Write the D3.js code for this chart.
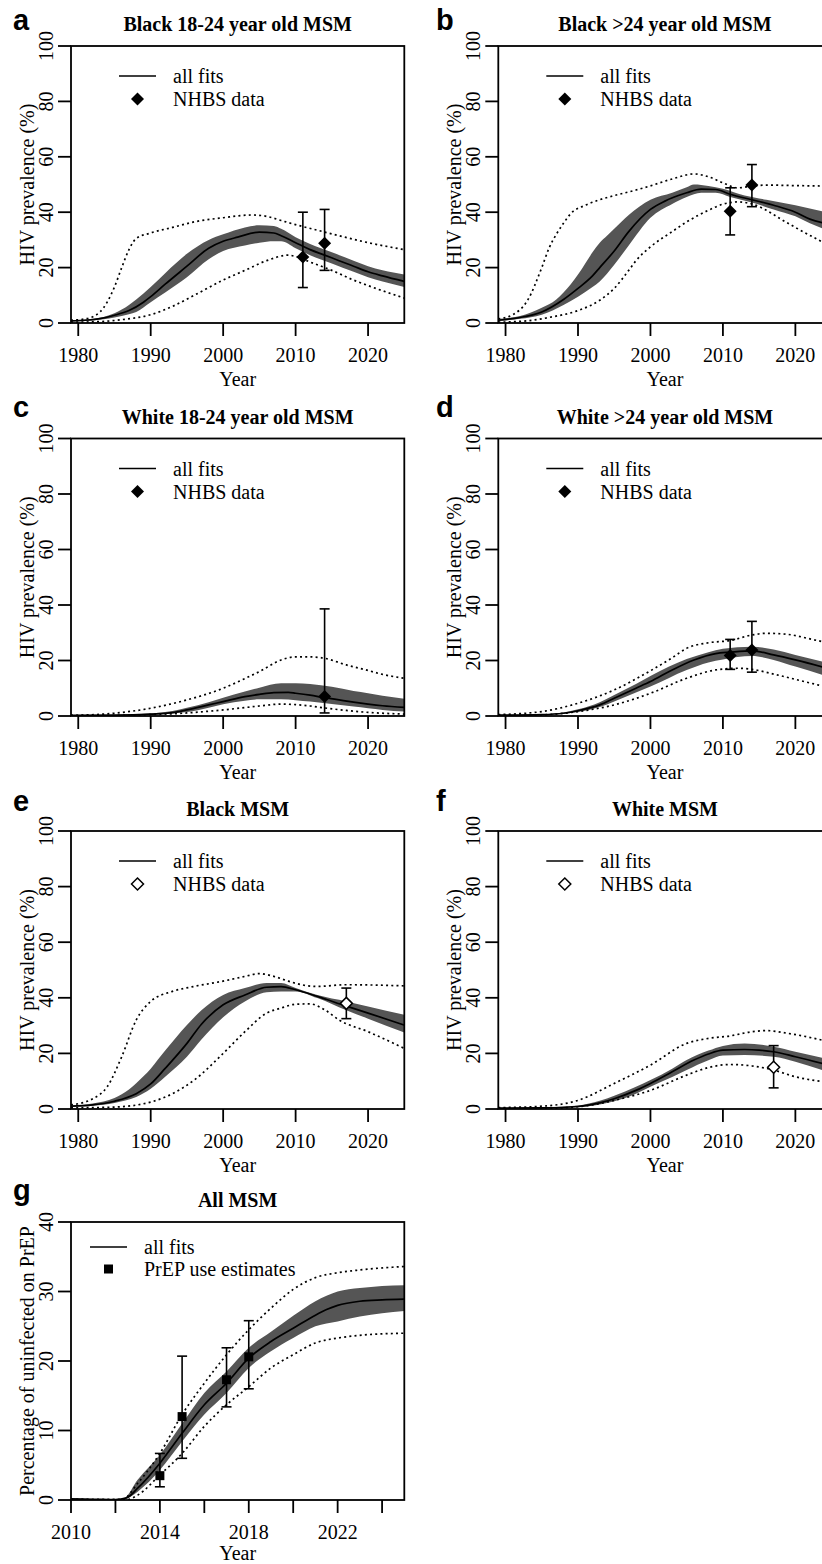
<!DOCTYPE html>
<html>
<head>
<meta charset="utf-8">
<script src="https://cdn.jsdelivr.net/npm/d3@7"></script>
<style>
  html, body { margin: 0; padding: 0; background: #ffffff; }
  svg { display: block; }
</style>
</head>
<body>
<svg id="chart" width="822" height="1564"></svg>
<script>
// ---------------- DATA ----------------
const panelLetters = ["a", "b", "c", "d", "e", "f", "g"];
const panelTitles = ["Black 18-24 year old MSM", "Black >24 year old MSM",
  "White 18-24 year old MSM", "White >24 year old MSM", "Black MSM", "White MSM", "All MSM"];
const prevYearTicks = [1980, 1990, 2000, 2010, 2020];
const prevValueTicks = [0, 20, 40, 60, 80, 100];
const prepYearTicks = [2010, 2012, 2014, 2016, 2018, 2020, 2022, 2024];
const prepYearLabels = [2010, 2014, 2018, 2022];
const prepValueTicks = [0, 10, 20, 30, 40];
const legendLine = "all fits";
const legendPrev = "NHBS data";
const legendPrep = "PrEP use estimates";
const yTitlePrev = "HIV prevalence (%)";
const yTitlePrep = "Percentage of uninfected on PrEP";
const xTitle = "Year";

// Panel a: Black 18-24
const aMedian = [[1979,0.8],[1981,1.0],[1983,1.6],[1985,2.8],[1987,4.5],[1989,7.5],[1990,9.5],[1992,14],[1995,20.5],[1998,27],[2000,29.5],[2002,31],[2005,32.8],[2007,32.5],[2008,31.5],[2010,29],[2012,26.5],[2014,24.5],[2016,22.5],[2018,20.5],[2020,18.5],[2022,17],[2025,15]];
const aBandHi = [[1979,1],[1982,1.5],[1985,3.5],[1987,6.5],[1988,8.5],[1990,13],[1992,18],[1995,25],[1998,30],[2000,32],[2003,34.5],[2005,35.3],[2007,35],[2008,34],[2010,31],[2012,28.5],[2015,25.5],[2018,22.5],[2020,20.5],[2022,19],[2025,17.5]];
const aBandLo = [[1979,0.5],[1982,1],[1985,2],[1987,3.2],[1988,4],[1990,7.5],[1992,11],[1995,16.5],[1998,23],[2000,26],[2003,28],[2005,29],[2007,29.5],[2008,29.5],[2010,27],[2012,24.5],[2015,21.5],[2018,18.5],[2020,16.5],[2022,15],[2025,13]];
const aDotHi = [[1979,1],[1981,1.5],[1983,4],[1985,13],[1986,20],[1987,26.5],[1988,30.5],[1990,32.5],[1993,34.5],[1996,36.5],[2000,38],[2004,39],[2006,38.5],[2008,37],[2010,35.5],[2013,33.5],[2016,31.5],[2020,29],[2025,26.5]];
const aDotLo = [[1979,0.3],[1983,0.5],[1986,1.2],[1990,3],[1993,6],[1996,10],[2000,15.5],[2003,19],[2006,22.5],[2009,24.5],[2010,24],[2012,22],[2015,19],[2018,15.5],[2020,13.5],[2025,9]];
const aPoints = [[2011,23.8,12.8,40],[2014,28.8,19,41]];

// Panel b: Black >24
const bMedian = [[1979,1],[1982,2],[1985,4],[1988,8.5],[1990,12.5],[1992,17],[1993,20],[1995,26],[1997,33],[2000,41],[2002,44],[2005,47],[2007,48.3],[2009,48.2],[2011,46.5],[2014,44.5],[2017,42.5],[2020,40],[2022,37.5],[2025,35.5]];
const bBandHi = [[1979,1.5],[1982,2.5],[1985,5.5],[1987,8.5],[1988,11],[1989,14],[1990,17.5],[1991,21.5],[1992,25.5],[1993,29],[1994,31.5],[1995,34],[1997,39],[2000,44.5],[2003,47],[2005,49],[2006,50],[2008,49.5],[2010,48.5],[2013,46],[2016,44.5],[2020,42.5],[2025,39.5]];
const bBandLo = [[1979,0.8],[1982,1.5],[1985,3],[1988,6.5],[1990,9.5],[1992,13],[1993,15],[1995,21],[1997,28],[2000,38],[2003,43],[2005,45.5],[2007,47],[2009,47],[2011,45.5],[2014,43.5],[2017,41],[2020,38.5],[2022,36],[2025,33]];
const bDotHi = [[1979,1.5],[1981,3],[1983,8],[1985,20],[1986,27],[1987,32],[1988,36],[1989,39.5],[1991,42.5],[1993,44.5],[1995,46],[1998,48],[2000,49.5],[2003,52],[2006,53.8],[2008,52.8],[2010,50.6],[2012,48.8],[2014,49.4],[2016,49.8],[2020,49.6],[2025,49.4]];
const bDotLo = [[1979,0.3],[1983,0.8],[1986,2],[1990,4.5],[1993,8.2],[1995,12.5],[1997,19],[1998,22.5],[2000,27.5],[2003,33],[2005,36.5],[2008,40.7],[2010,42.9],[2012,43.7],[2014,43],[2016,40.7],[2018,37.5],[2020,34.5],[2025,27.5]];
const bPoints = [[2011,40.3,31.8,48.8],[2014,49.8,42,57.2]];

// Panel c: White 18-24
const cMedian = [[1979,0.2],[1985,0.3],[1990,0.7],[1993,1.2],[1995,2.2],[1998,4],[2000,5.2],[2003,7],[2005,7.8],[2007,8.4],[2009,8.5],[2010,8.2],[2012,7.5],[2014,6.6],[2016,5.8],[2018,5],[2020,4.3],[2022,3.7],[2025,3.1]];
const cBandHi = [[1979,0.3],[1985,0.4],[1990,0.9],[1993,1.8],[1995,3],[1998,5],[2000,6.6],[2003,8.8],[2005,10.2],[2008,11.8],[2010,11.8],[2012,11.5],[2015,10.5],[2018,9],[2020,8.2],[2022,7.3],[2025,6.2]];
const cBandLo = [[1979,0.1],[1985,0.2],[1990,0.4],[1993,0.9],[1995,1.4],[1998,3],[2000,4.2],[2003,5.5],[2005,6],[2008,6],[2010,5.7],[2012,5.2],[2015,4.3],[2018,3.4],[2020,2.8],[2022,2.2],[2025,1.6]];
const cDotHi = [[1979,0.2],[1985,1],[1990,2.8],[1995,5.8],[2000,10],[2003,13.5],[2005,16],[2008,20.2],[2010,21.3],[2012,21.3],[2014,20.8],[2017,18.4],[2020,16.4],[2022,15],[2025,13.6]];
const cDotLo = [[1979,0.1],[1985,0.2],[1990,0.5],[1995,1.1],[2000,2.2],[2005,3.6],[2008,4.3],[2010,4.1],[2012,3.6],[2014,2.9],[2017,2],[2020,1.3],[2025,0.7]];
const cPoints = [[2014,7,1.1,38.6]];

// Panel d: White >24
const dMedian = [[1979,0.3],[1985,0.5],[1988,1],[1990,1.9],[1993,4],[1995,6.4],[1998,10],[2000,12.4],[2003,16.6],[2006,20.2],[2009,22.5],[2011,23],[2014,23.5],[2017,22],[2020,20.2],[2025,16.8]];
const dBandHi = [[1979,0.4],[1985,0.6],[1988,1.3],[1990,2.4],[1993,5],[1995,7.6],[1998,11.5],[2000,14.4],[2005,20.5],[2008,23],[2010,24.2],[2014,25],[2017,24],[2020,22],[2025,18.8]];
const dBandLo = [[1979,0.2],[1985,0.4],[1988,0.8],[1990,1.4],[1993,3.2],[1995,5.2],[1998,8.5],[2000,10.6],[2005,16.6],[2008,19.3],[2010,20.4],[2014,21.6],[2017,20.2],[2020,17.8],[2025,13.8]];
const dDotHi = [[1979,0.5],[1985,1.6],[1990,4.6],[1995,9.4],[2000,16.3],[2003,21],[2005,24.4],[2008,26.4],[2011,27.2],[2014,29.2],[2016,29.8],[2019,29.4],[2022,27.8],[2025,26]];
const dDotLo = [[1979,0.2],[1985,0.4],[1990,1.6],[1995,4],[2000,8.2],[2005,13.6],[2009,16.6],[2012,17.2],[2014,16.8],[2017,15.1],[2020,13.2],[2025,10]];
const dPoints = [[2011,21.8,16.8,27.6],[2014,23.8,15.8,34.1]];

// Panel e: Black MSM
const eMedian = [[1979,1],[1982,1.5],[1985,2.8],[1988,5.5],[1990,9],[1992,14.6],[1995,23.6],[1997,30.5],[2000,37.5],[2003,41],[2006,43.8],[2008,44],[2010,42.9],[2013,40.5],[2017,37],[2020,34.5],[2025,30.2]];
const eBandHi = [[1979,1.2],[1982,2],[1985,4],[1987,7],[1988,9.3],[1989,11.8],[1990,14.5],[1991,17.8],[1992,21],[1995,30.2],[1997,35.5],[2000,41],[2003,43.5],[2006,45.3],[2008,45.3],[2010,43.5],[2013,41],[2017,38.7],[2020,36.9],[2025,33.9]];
const eBandLo = [[1979,0.8],[1982,1.2],[1985,2.2],[1988,4.3],[1990,7.3],[1992,11.6],[1995,18.8],[1997,25],[2000,33],[2003,38.7],[2006,42],[2008,42.3],[2010,42.3],[2013,39.9],[2017,35.5],[2020,32.5],[2025,27.5]];
const eDotHi = [[1979,1.5],[1982,3.7],[1984,8],[1986,18.8],[1988,32],[1990,38.7],[1993,42.3],[1996,44.1],[2000,46],[2003,47.7],[2005,48.7],[2007,47.7],[2009,46],[2011,44.6],[2013,44.1],[2017,44.7],[2025,44.3]];
const eDotLo = [[1979,0.4],[1985,0.7],[1990,2.5],[1993,5.5],[1996,10.4],[2000,20],[2003,27.8],[2006,34.5],[2008,36.3],[2010,37.7],[2012,37.8],[2014,35.7],[2016,32],[2020,27.8],[2025,21.8]];
const ePoints = [[2017,38,32.5,43.5]];

// Panel f: White MSM
const fMedian = [[1979,0.3],[1985,0.4],[1990,0.9],[1993,2.2],[1995,3.7],[1998,6.7],[2000,9.2],[2003,13.4],[2006,17.6],[2008,19.8],[2010,21.2],[2013,21.4],[2015,21.2],[2017,20.6],[2020,18.8],[2025,15.5]];
const fBandHi = [[1979,0.4],[1985,0.6],[1990,1.3],[1993,3],[1995,4.8],[1998,8],[2000,10.4],[2003,14.5],[2005,17.6],[2008,21],[2010,22.7],[2013,23.6],[2017,22.4],[2020,20.6],[2025,17.6]];
const fBandLo = [[1979,0.2],[1985,0.3],[1990,0.6],[1993,1.6],[1995,2.8],[1998,5.5],[2000,8],[2003,11.5],[2005,14],[2008,17.5],[2010,19.2],[2013,19.4],[2017,18.8],[2020,17],[2025,12.8]];
const fDotHi = [[1979,0.5],[1985,1],[1990,3.1],[1995,9.2],[2000,15.8],[2005,23.6],[2008,25.4],[2011,26.3],[2014,27.8],[2016,28.2],[2019,27.2],[2025,24]];
const fDotLo = [[1979,0.2],[1985,0.2],[1990,0.8],[1995,3.1],[2000,6.7],[2005,12.2],[2008,14.9],[2011,16],[2014,15.5],[2017,14],[2020,11.6],[2025,9.5]];
const fPoints = [[2017,15,7.6,22.8]];

// Panel g: All MSM, PrEP use
const gMedian = [[2010,0.15],[2011,0.1],[2012,0.05],[2012.5,0.3],[2013,1.7],[2014,5.3],[2015,9.6],[2016,13.7],[2017,16.8],[2018,20.4],[2019,22.8],[2020,24.7],[2021,26.6],[2021.5,27.4],[2022,28],[2023,28.6],[2024,28.8],[2025,28.9]];
const gBandHi = [[2010,0.2],[2012,0.1],[2012.4,0.3],[2013,2.9],[2014,6.5],[2015,11],[2016,15.4],[2017,18.5],[2018,21.9],[2019,24.2],[2020,26.5],[2021,28.6],[2022,30],[2023,30.5],[2025,30.9]];
const gBandLo = [[2010,0.05],[2012,0],[2012.4,0.1],[2013,1.2],[2014,4.3],[2015,8.4],[2016,12.3],[2017,15.4],[2018,19],[2019,21.4],[2020,23.3],[2021,25],[2022,25.7],[2023,26.4],[2025,27.2]];
const gDotHi = [[2010,0.1],[2012.3,0.05],[2013,2.4],[2014,6.7],[2015,12.3],[2016,16.8],[2017,20.9],[2018,24.5],[2019,27.6],[2020,30.3],[2021,32],[2022,32.7],[2023,33.1],[2025,33.6]];
const gDotLo = [[2010,0.05],[2012.5,0.05],[2013,0.7],[2014,3.6],[2015,6.7],[2016,10.6],[2017,13.7],[2018,16.3],[2019,19],[2020,20.9],[2021,22.6],[2022,23.3],[2023,23.7],[2025,24]];
const gPoints = [[2014,3.5,1.9,6.7],[2015,12,6,20.7],[2017,17.3,13.4,21.9],[2018,20.6,16,25.8]];

// ---------------- LAYOUT ----------------
const W = 822, H = 1564;
const svg = d3.select("#chart");
svg.append("rect").attr("width", W).attr("height", H).attr("fill", "#fff");

const SERIF = "'Liberation Serif','Times New Roman',Times,serif";
const SANS = "'Liberation Sans',Arial,Helvetica,sans-serif";
const BAND = "#555555";

const colX = [[71, 404.3], [498.3, 831.6]];
const rowY = [[46, 323], [438.5, 716], [831, 1109], [1222, 1500]];

const panels = [
  {letter: 0, col: 0, row: 0, med: aMedian, hi: aBandHi, lo: aBandLo, dhi: aDotHi, dlo: aDotLo, pts: aPoints, kind: "prev", marker: "diamond"},
  {letter: 1, col: 1, row: 0, med: bMedian, hi: bBandHi, lo: bBandLo, dhi: bDotHi, dlo: bDotLo, pts: bPoints, kind: "prev", marker: "diamond"},
  {letter: 2, col: 0, row: 1, med: cMedian, hi: cBandHi, lo: cBandLo, dhi: cDotHi, dlo: cDotLo, pts: cPoints, kind: "prev", marker: "diamond"},
  {letter: 3, col: 1, row: 1, med: dMedian, hi: dBandHi, lo: dBandLo, dhi: dDotHi, dlo: dDotLo, pts: dPoints, kind: "prev", marker: "diamond"},
  {letter: 4, col: 0, row: 2, med: eMedian, hi: eBandHi, lo: eBandLo, dhi: eDotHi, dlo: eDotLo, pts: ePoints, kind: "prev", marker: "open"},
  {letter: 5, col: 1, row: 2, med: fMedian, hi: fBandHi, lo: fBandLo, dhi: fDotHi, dlo: fDotLo, pts: fPoints, kind: "prev", marker: "open"},
  {letter: 6, col: 0, row: 3, med: gMedian, hi: gBandHi, lo: gBandLo, dhi: gDotHi, dlo: gDotLo, pts: gPoints, kind: "prep", marker: "square"}
];
const letterBaseline = [30, 417, 811, 1200];

function diamondPath(cx, cy, r) {
  return `M${cx},${cy - r}L${cx + r},${cy}L${cx},${cy + r}L${cx - r},${cy}Z`;
}

function drawMarker(g, type, cx, cy) {
  if (type === "diamond") {
    g.append("path").attr("d", diamondPath(cx, cy, 6.5)).attr("fill", "#000");
  } else if (type === "open") {
    g.append("path").attr("d", diamondPath(cx, cy, 6)).attr("fill", "#fff")
      .attr("stroke", "#000").attr("stroke-width", 1.5);
  } else {
    g.append("rect").attr("x", cx - 4.5).attr("y", cy - 4.5).attr("width", 9).attr("height", 9).attr("fill", "#000");
  }
}

panels.forEach((p, i) => {
  const [x0, x1] = colX[p.col];
  const [top, bottom] = rowY[p.row];
  const isPrep = p.kind === "prep";
  const x = d3.scaleLinear().domain(isPrep ? [2010, 2025] : [1979, 2025]).range([x0, x1]);
  const y = d3.scaleLinear().domain(isPrep ? [0, 40] : [0, 100]).range([bottom, top]);
  const g = svg.append("g");

  const clipId = "clip" + i;
  svg.append("clipPath").attr("id", clipId).append("rect")
    .attr("x", x0).attr("y", top).attr("width", x1 - x0).attr("height", bottom - top);
  const plot = g.append("g").attr("clip-path", `url(#${clipId})`);

  const line = d3.line().x(d => x(d[0])).y(d => y(d[1])).curve(d3.curveMonotoneX);

  // band
  const upperD = line(p.hi);
  const lowerD = line(p.lo.slice().reverse());
  plot.append("path").attr("d", upperD + lowerD.replace(/^M/, "L") + "Z")
    .attr("fill", BAND).attr("stroke", "none");

  // dotted extremes
  [p.dhi, p.dlo].forEach(s => {
    plot.append("path").attr("d", line(s)).attr("fill", "none")
      .attr("stroke", "#000").attr("stroke-width", 1.7).attr("stroke-dasharray", "2,3.2");
  });

  // median
  plot.append("path").attr("d", line(p.med)).attr("fill", "none")
    .attr("stroke", "#000").attr("stroke-width", 1.7);

  // error bars & points
  p.pts.forEach(pt => {
    const cx = x(pt[0]);
    const eg = g.append("g").attr("stroke", "#000").attr("stroke-width", 1.6);
    eg.append("line").attr("x1", cx).attr("x2", cx).attr("y1", y(pt[2])).attr("y2", y(pt[3]));
    eg.append("line").attr("x1", cx - 5).attr("x2", cx + 5).attr("y1", y(pt[2])).attr("y2", y(pt[2]));
    eg.append("line").attr("x1", cx - 5).attr("x2", cx + 5).attr("y1", y(pt[3])).attr("y2", y(pt[3]));
    drawMarker(g, p.marker, cx, y(pt[1]));
  });

  // box
  g.append("rect").attr("x", x0).attr("y", top).attr("width", x1 - x0).attr("height", bottom - top)
    .attr("fill", "none").attr("stroke", "#000").attr("stroke-width", 1.8);

  // x axis
  const xt = isPrep ? prepYearTicks : prevYearTicks;
  const xl = isPrep ? prepYearLabels : prevYearTicks;
  xt.forEach(t => {
    g.append("line").attr("x1", x(t)).attr("x2", x(t)).attr("y1", bottom).attr("y2", bottom + 13)
      .attr("stroke", "#000").attr("stroke-width", 1.8);
  });
  xl.forEach(t => {
    g.append("text").attr("x", x(t)).attr("y", bottom + 39).attr("text-anchor", "middle")
      .attr("font-family", SERIF).attr("font-size", 20).text(t);
  });
  g.append("text").attr("x", (x0 + x1) / 2).attr("y", isPrep ? bottom + 60 : bottom + 63).attr("text-anchor", "middle")
    .attr("font-family", SERIF).attr("font-size", 20).text(xTitle);

  // y axis
  const yt = isPrep ? prepValueTicks : prevValueTicks;
  yt.forEach(t => {
    g.append("line").attr("x1", x0 - 13).attr("x2", x0).attr("y1", y(t)).attr("y2", y(t))
      .attr("stroke", "#000").attr("stroke-width", 1.8);
    g.append("text").attr("transform", `translate(${x0 - 18},${y(t)}) rotate(-90)`)
      .attr("text-anchor", "middle").attr("font-family", SERIF).attr("font-size", 20).text(t);
  });
  g.append("text").attr("transform", `translate(${x0 - 37},${(top + bottom) / 2}) rotate(-90)`)
    .attr("text-anchor", "middle").attr("font-family", SERIF).attr("font-size", 20)
    .text(isPrep ? yTitlePrep : yTitlePrev);

  // title
  g.append("text").attr("x", (x0 + x1) / 2).attr("y", top - 15).attr("text-anchor", "middle")
    .attr("font-family", SERIF).attr("font-weight", "bold").attr("font-size", 20)
    .text(panelTitles[p.letter]);

  // panel letter
  g.append("text").attr("x", p.col === 0 ? 13 : 436).attr("y", letterBaseline[p.row])
    .attr("font-family", SANS).attr("font-weight", "bold").attr("font-size", 29)
    .text(panelLetters[p.letter]);

  // legend
  const lx = isPrep ? x0 + 19 : x0 + 48;
  const ly = isPrep ? top + 25 : top + 30;
  const ly2 = isPrep ? top + 47 : top + 53;
  const tx = isPrep ? x0 + 73 : x0 + 102;
  g.append("line").attr("x1", lx).attr("x2", lx + 37).attr("y1", ly).attr("y2", ly)
    .attr("stroke", "#000").attr("stroke-width", 1.7);
  drawMarker(g, p.marker, lx + 18.5, ly2);
  g.append("text").attr("x", tx).attr("y", ly + 7).attr("font-family", SERIF).attr("font-size", 20).text(legendLine);
  g.append("text").attr("x", tx).attr("y", ly2 + 7).attr("font-family", SERIF).attr("font-size", 20)
    .text(isPrep ? legendPrep : legendPrev);
});
</script>
</body>
</html>
